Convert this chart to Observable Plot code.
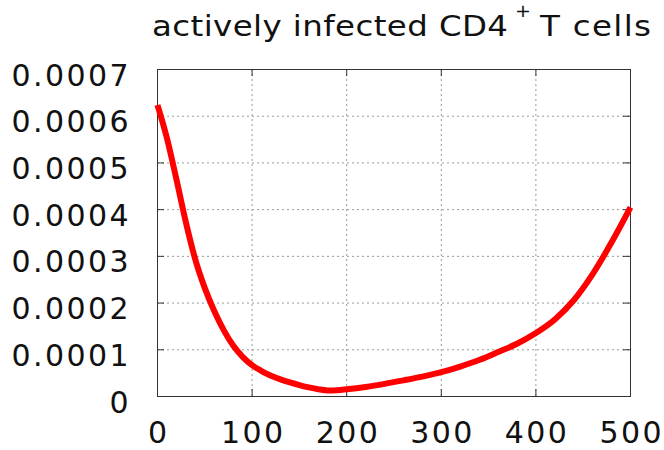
<!DOCTYPE html>
<html><head><meta charset="utf-8">
<script src="https://cdn.jsdelivr.net/npm/d3@7"></script>
<script src="https://cdn.jsdelivr.net/npm/@observablehq/plot@0.6"></script>
<style>html,body{margin:0;padding:0;background:#fff} svg{display:block}</style>
</head><body><div id="chart"></div>
<script>
// time (days) and actively infected CD4+ T cells
const days     = [0, 10, 20, 30, 40, 50, 60, 70, 80, 90, 100, 110, 120, 130, 140, 150, 160, 170, 180, 190, 200, 220, 240, 260, 280, 300, 320, 340, 360, 380, 400, 420, 440, 460, 480, 500];
const infected = [0.000624, 0.000553, 0.000465, 0.000373, 0.000293, 0.000232, 0.000183, 0.000142, 0.000109, 0.000085, 0.000067, 0.0000545, 0.0000445, 0.0000365, 0.00003, 0.0000245, 0.0000195, 0.0000155, 0.000013, 0.0000135, 0.0000155, 0.0000205, 0.000027, 0.0000345, 0.0000425, 0.000052, 0.000064, 0.000078, 0.000095, 0.000113, 0.000136, 0.000165, 0.000206, 0.000262, 0.00033, 0.000405];

const xTicks = [0, 100, 200, 300, 400, 500];
const xTickLabels = ["0", "100", "200", "300", "400", "500"];
const yTicks = [0, 0.0001, 0.0002, 0.0003, 0.0004, 0.0005, 0.0006, 0.0007];
const yTickLabels = ["0", "0.0001", "0.0002", "0.0003", "0.0004", "0.0005", "0.0006", "0.0007"];

const titleMain = "actively infected CD4";
const titleSup = "+";
const titleEnd = "T cells";

const data = days.map((d, i) => ({day: d, value: infected[i]}));

const W = 664, H = 450, mL = 157, mR = 34, mT = 69, mB = 54;
const innerW = W - mL - mR, innerH = H - mT - mB;
const tickLen = 7;
const frameColor = "#333";

const plot = Plot.plot({
  width: W, height: H,
  marginLeft: mL, marginRight: mR, marginTop: mT, marginBottom: mB,
  style: {fontFamily: "DejaVu Sans", fontSize: "30px", background: "#fff", color: "#111", letterSpacing: "2.4px"},
  x: {domain: [0, 500]},
  y: {domain: [0, 0.0007]},
  marks: [
    Plot.gridX(xTicks, {stroke: "#999", strokeOpacity: 1, strokeDasharray: "2,3"}),
    Plot.gridY(yTicks, {stroke: "#999", strokeOpacity: 1, strokeDasharray: "2,3"}),
    Plot.tickY(yTicks, {y: d => d, insetRight: innerW - tickLen, stroke: frameColor}),
    Plot.tickY(yTicks, {y: d => d, insetLeft: innerW - tickLen, stroke: frameColor}),
    Plot.tickX(xTicks, {x: d => d, insetTop: innerH - tickLen, stroke: frameColor}),
    Plot.tickX(xTicks, {x: d => d, insetBottom: innerH - tickLen, stroke: frameColor}),
    Plot.frame({stroke: frameColor}),
    Plot.line(data, {x: "day", y: "value", stroke: "#f00", strokeWidth: 6, strokeLinecap: "butt", curve: "monotone-x"}),
    Plot.axisX(xTicks, {tickSize: 0, tickPadding: 25, dx: 1.2, tickFormat: d => xTickLabels[xTicks.indexOf(d)], label: null}),
    Plot.axisY(yTicks, {tickSize: 0, tickPadding: 26.6, tickFormat: d => yTickLabels[yTicks.indexOf(d)], label: null, dy: 6.5})
  ]
});

const svg = d3.select(plot);
const stretch = 1.12;
function addText(str, x, y, size, len) {
  const t = svg.append("text")
    .attr("transform", `translate(${x},${y}) scale(${stretch},1)`)
    .attr("text-anchor", "start")
    .attr("font-family", "DejaVu Sans")
    .attr("font-size", size)
    .attr("letter-spacing", "0px")
    .attr("fill", "#111")
    .text(str);
  if (len) t.attr("textLength", len / stretch).attr("lengthAdjust", "spacing");
  return t;
}
addText(titleMain, 152, 36, 29, 356);
addText(titleSup, 515, 16.5, 17);
addText(titleEnd, 540, 36, 29, 111);

document.getElementById("chart").appendChild(plot);
</script>
</body></html>
